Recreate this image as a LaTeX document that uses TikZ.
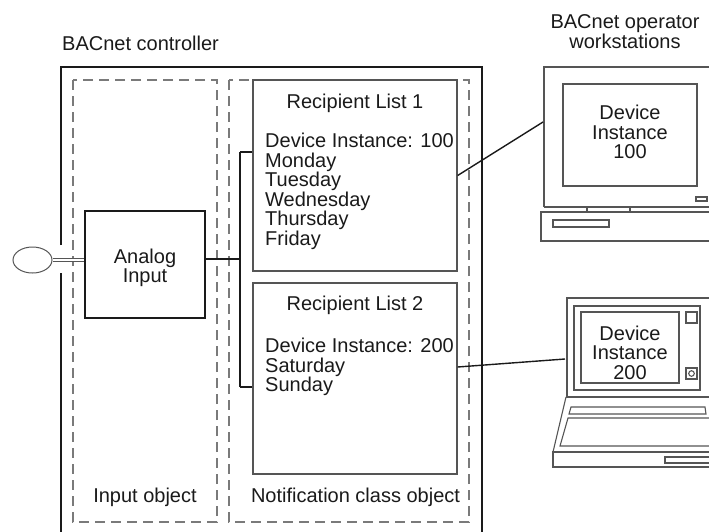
\documentclass[tikz,border=0pt]{standalone}
\usepackage{fontspec}
\setmainfont{Liberation Sans}
\usetikzlibrary{shapes.geometric}
\definecolor{ink}{HTML}{1A1A1A}
\definecolor{frame}{HTML}{555555}
\definecolor{dash}{HTML}{7A7A7A}
\tikzset{
  txt/.style={font=\fontsize{20}{19.5}\selectfont, text=ink, inner sep=0pt},
  objbox/.style={draw=dash, line width=1.3pt, dash pattern=on 10pt off 6pt},
  listbox/.style={draw=frame, line width=1.3pt, rectangle, inner sep=0pt},
  wire/.style={draw=ink, line width=1.6pt},
  hw/.style={draw=frame, line width=1.1pt},
}
\begin{document}
\begin{tikzpicture}[x=1pt,y=-1pt]
\useasboundingbox (0,0) rectangle (709,531);

% controller enclosure with an opening for the sensor lead
\draw[ink, line width=2pt] (61,560) -- (61,273);
\draw[ink, line width=2pt] (61,245) -- (61,67) -- (482,67) -- (482,560);
\node[txt, anchor=west] (ctrl) at (62,43) {BACnet controller};

% object boundaries
\draw[objbox] (73,80) rectangle (217,522);
\draw[objbox] (229,80) rectangle (469,522);
\node[txt] (inobj) at (145,497) {Input object};
\node[txt] (ncobj) at (355.5,497) {Notification class object};

% analog input and its sensor
\node[draw=ink, line width=2pt, minimum width=120pt, minimum height=107pt, inner sep=0pt] (ai) at (145,264.5) {};
\node[txt, align=center] (aitext) at (145,268) {Analog\\Input};
\node[ellipse, draw=frame, line width=1pt, minimum width=39pt, minimum height=26pt] (sensor) at (32.5,260) {};
\draw[frame, line width=0.8pt, double=white, double distance=2.2pt] (sensor.east) -- (sensor.east -| ai.west);

% recipient lists
\node[listbox, minimum width=204pt, minimum height=191pt] (rl1) at (355,175.5) {};
\node[listbox, minimum width=204pt, minimum height=191pt] (rl2) at (355,378.5) {};
\node[txt] (rl1title) at (355,103) {Recipient List 1};
\node[txt, anchor=north west, align=left] (rl1body) at (265,133)
  {Device Instance: 100\\Monday\\Tuesday\\Wednesday\\Thursday\\Friday};
\node[txt] (rl2title) at (355,305) {Recipient List 2};
\node[txt, anchor=north west, align=left] (rl2body) at (265,338)
  {Device Instance: 200\\Saturday\\Sunday};

% bus from the input to both lists
\coordinate (bus) at (240,259);
\coordinate (t1) at (240,152);
\coordinate (t2) at (240,387);
\draw[wire] (ai.east |- bus) -- (bus);
\draw[wire] (t1) -- (t2);
\draw[wire] (t1) -- (t1 -| rl1.west);
\draw[wire] (t2) -- (t2 -| rl2.west);

% operator workstations
\node[txt, align=center] (wslabel) at (625,31.5) {BACnet operator\\workstations};

% desktop workstation
\draw[hw] (544,207) -- (544,67) -- (720,67);
\draw[hw] (544,207) -- (720,207);
\node[draw=frame, line width=1.1pt, minimum width=134pt, minimum height=102pt, inner sep=0pt] (scr1) at (630,135) {};
\node[txt, align=center] (scr1text) at (630,132) {Device\\Instance\\100};
\draw[hw] (696,197) rectangle (707,201);
\draw[hw] (587,207) -- (587,212);
\draw[hw] (630,207) -- (630,212);
\draw[hw] (541,212) rectangle (720,241);
\draw[hw] (553,220) rectangle (609,227);
\coordinate (desk) at (543,122);

% laptop workstation
\draw[hw] (720,298) -- (567,298) -- (567,397) -- (720,397);
\draw[hw] (574,306) rectangle (700,390);
\node[draw=frame, line width=1.1pt, minimum width=98pt, minimum height=71pt, inner sep=0pt] (scr2) at (630,347.5) {};
\node[txt, align=center] (scr2text) at (630,352.5) {Device\\Instance\\200};
\draw[hw] (686,312) rectangle (697,323);
\draw[hw] (686,368) rectangle (697,379);
\draw[hw] (691.5,373.5) circle (2.8);
\draw[hw] (566,397) -- (553,452);
\draw[hw] (571,407) -- (705,407) -- (706,414) -- (569,414) -- cycle;
\draw[hw] (720,418) -- (568,418) -- (560,446) -- (720,446);
\draw[hw] (553,452) rectangle (720,467);
\draw[hw] (665,457) rectangle (720,463);
\coordinate (lap) at (565,359);

% network links to the workstations
\draw[ink, line width=1.4pt] (rl1.east) -- (desk);
\draw[ink, line width=1.4pt] (rl2.east |- 0,367) -- (lap);
\end{tikzpicture}
\end{document}
